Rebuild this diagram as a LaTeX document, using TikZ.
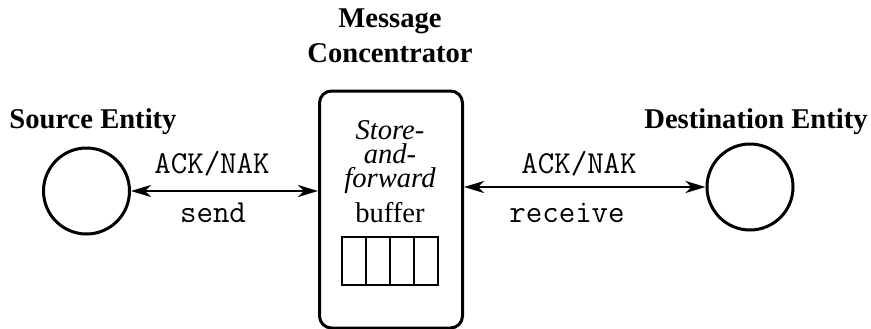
\documentclass[tikz,border=0pt]{standalone}
\usepackage{fontspec}
\setmainfont{Liberation Serif}
\usetikzlibrary{arrows.meta,positioning}

\begin{document}
\begin{tikzpicture}[
    x=0.5pt,y=0.5pt,
    ent/.style  = {circle,draw,line width=1.5pt,minimum size=43pt,inner sep=0pt},
    conc/.style = {rectangle,rounded corners=6pt,draw,line width=1.5pt,
                   minimum width=71.5pt,minimum height=118.5pt,inner sep=0pt},
    cell/.style = {rectangle,draw,line width=1.1pt,minimum width=12pt,
                   minimum height=24pt,inner sep=0pt},
    fl/.style   = {{Stealth[length=10pt,width=6pt,inset=3pt]}-{Stealth[length=10pt,width=6pt,inset=3pt]},
                   line width=1.4pt},
    ttl/.style  = {font=\fontsize{14.3}{17.5}\selectfont\bfseries,align=center,inner sep=0pt},
    msg/.style  = {font=\fontsize{16}{16}\selectfont\ttfamily,inner sep=0pt},
    inn/.style  = {font=\fontsize{14.3}{11.8}\selectfont,align=center,inner sep=0pt},
  ]
  \useasboundingbox (0,0) rectangle (871,328);

  % entities and the concentrator
  \node[ent]  (src) at (86.5,137) {};
  \node[ent]  (dst) at (750,141)  {};
  \node[conc] (mc)  at (391,118.5) {};

  \node[ttl,anchor=base] (srcT) at (93,200)  {Source Entity};
  \node[ttl,anchor=base] (dstT) at (756,200) {Destination Entity};
  \node[ttl,anchor=south] (mcT) at (390,265) {Message\\Concentrator};

  % inside the concentrator
  \node[inn,anchor=base] (saf) at (390,141) {\itshape Store-\\\itshape and-\\\itshape forward};
  \node[inn,anchor=base] (buf) at (390,106) {buffer};
  \foreach \i in {0,...,3}
    \node[cell] (c\i) at (354+24*\i,67) {};

  % links
  \draw[fl] (src) -- (src -| mc.west);
  \draw[fl] (mc.east |- dst) -- (dst);

  \node[msg,anchor=base] (ackL) at (212,155) {ACK/NAK};
  \node[msg,anchor=base] (snd)  at (213,106) {send};
  \node[msg,anchor=base] (ackR) at (579,155) {ACK/NAK};
  \node[msg,anchor=base] (rcv)  at (567,106) {receive};

\end{tikzpicture}
\end{document}
